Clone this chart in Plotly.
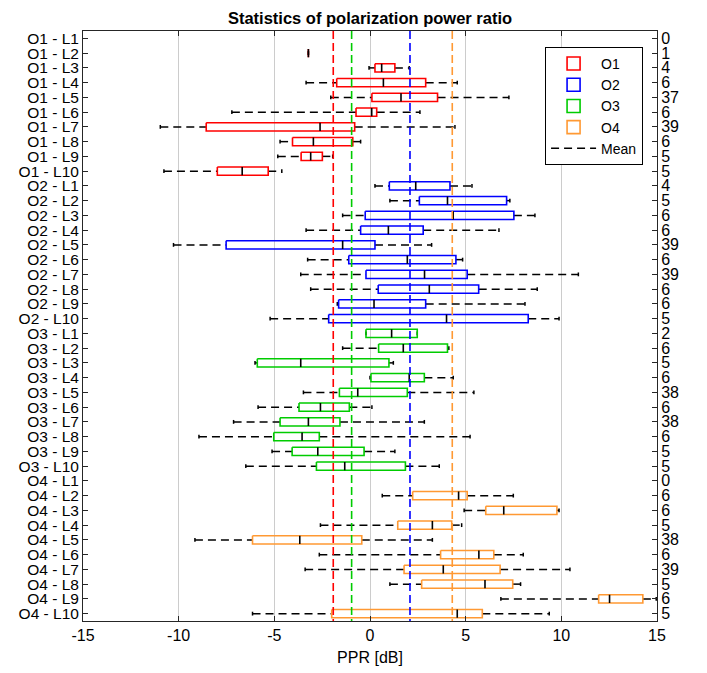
import plotly.graph_objects as go

# PPR statistics per O/L group (dB)
groups = ['O1', 'O2', 'O3', 'O4']
colors = ['#ff0000', '#0000ff', '#00cc00', '#ff9933']
levels = ['L%d' % i for i in range(1, 11)]

wmin = {
    'O1': [None, -3.22, -0.05, -3.34, -2.05, -7.22, -10.96, -4.70, -4.82, -10.77],
    'O2': [0.26, 1.04, -1.43, -3.34, -10.27, -3.26, -3.62, -3.10, -1.71, -5.22],
    'O3': [-0.21, -1.43, -6.01, 0.00, -3.48, -5.85, -7.13, -8.94, -5.12, -6.49],
    'O4': [None, 0.64, 4.92, -2.59, -9.15, -2.65, -3.39, 1.04, 6.84, -6.14],
}
q1 = {
    'O1': [None, -3.22, 0.26, -1.74, 0.10, -0.73, -8.56, -4.05, -3.60, -7.98],
    'O2': [1.01, 2.58, -0.25, -0.49, -7.52, -1.11, -0.21, 0.43, -1.64, -2.16],
    'O3': [-0.21, 0.45, -5.89, 0.05, -1.60, -3.71, -4.70, -5.03, -4.07, -2.80],
    'O4': [None, 2.23, 6.05, 1.45, -6.14, 3.69, 1.78, 2.70, 11.95, -2.00],
}
med = {
    'O1': [None, -3.22, 0.61, 0.70, 1.62, 0.09, -2.61, -2.96, -3.10, -6.68],
    'O2': [2.39, 4.05, 4.35, 0.96, -1.43, 1.95, 2.85, 3.10, 0.21, 4.00],
    'O3': [1.13, 1.74, -3.62, 2.05, -0.64, -2.59, -3.22, -3.55, -2.73, -1.32],
    'O4': [None, 4.63, 6.99, 3.26, -3.67, 5.69, 3.83, 6.01, 12.52, 4.56],
}
q3 = {
    'O1': [None, -3.22, 1.30, 2.91, 3.53, 0.35, -0.80, -0.90, -2.49, -5.32],
    'O2': [4.18, 7.14, 7.52, 2.78, 0.26, 4.49, 5.08, 5.68, 2.91, 8.27],
    'O3': [2.47, 4.05, 0.99, 2.84, 1.95, -1.08, -1.57, -2.65, -0.31, 1.85],
    'O4': [None, 5.08, 9.77, 4.27, -0.43, 6.47, 6.80, 7.46, 14.26, 5.87],
}
wmax = {
    'O1': [None, -3.22, 2.05, 4.56, 7.26, 2.61, 4.44, -0.49, -1.95, -4.61],
    'O2': [5.33, 7.31, 8.62, 6.74, 3.22, 4.84, 10.89, 8.74, 8.10, 9.88],
    'O3': [2.47, 4.12, 1.22, 4.35, 5.43, 0.10, 2.84, 5.23, 1.30, 3.62],
    'O4': [None, 7.49, 9.88, 4.79, 3.26, 8.01, 10.45, 7.87, 14.96, 9.37],
}
counts = {
    'O1': [0, 1, 4, 6, 37, 6, 39, 6, 5, 5],
    'O2': [4, 5, 6, 6, 39, 6, 39, 6, 6, 5],
    'O3': [2, 6, 5, 6, 38, 6, 38, 6, 5, 5],
    'O4': [0, 6, 6, 5, 38, 6, 39, 5, 6, 5],
}
# mean PPR of each group O1..O4
means = [-1.92, 2.09, -0.96, 4.30]

xticks = [-15, -10, -5, 0, 5, 10, 15]
labels = ['%s - %s' % (g, l) for g in groups for l in levels]
ypos = list(range(1, len(labels) + 1))
count_text = [str(c) for g in groups for c in counts[g]]

BW = 0.28   # half box height
CAP = 0.13  # half cap height

fig = go.Figure()

# whiskers (dashed) and caps
wx, wy, cx, cy = [], [], [], []
for gi, g in enumerate(groups):
    for li in range(10):
        if wmin[g][li] is None:
            continue
        y = ypos[gi * 10 + li]
        wx += [wmin[g][li], q1[g][li], None, q3[g][li], wmax[g][li], None]
        wy += [y, y, None, y, y, None]
        for v in (wmin[g][li], wmax[g][li]):
            cx += [v, v, None]
            cy += [y - CAP, y + CAP, None]
fig.add_trace(go.Scatter(x=wx, y=wy, mode='lines', showlegend=False, hoverinfo='skip',
                         line=dict(color='black', width=1.5, dash='8px,5px')))
fig.add_trace(go.Scatter(x=cx, y=cy, mode='lines', showlegend=False, hoverinfo='skip',
                         line=dict(color='black', width=1.5)))

# boxes
for gi, g in enumerate(groups):
    bx, by = [], []
    for li in range(10):
        if q1[g][li] is None:
            continue
        y = ypos[gi * 10 + li]
        a, b = q1[g][li], q3[g][li]
        bx += [a, b, b, a, a, None]
        by += [y - BW, y - BW, y + BW, y + BW, y - BW, None]
    fig.add_trace(go.Scatter(x=bx, y=by, mode='lines', showlegend=False, hoverinfo='skip',
                             line=dict(color=colors[gi], width=1.6)))

# medians
mx, my = [], []
for gi, g in enumerate(groups):
    for li in range(10):
        if med[g][li] is None:
            continue
        y = ypos[gi * 10 + li]
        mx += [med[g][li], med[g][li], None]
        my += [y - BW, y + BW, None]
fig.add_trace(go.Scatter(x=mx, y=my, mode='lines', showlegend=False, hoverinfo='skip',
                         line=dict(color='black', width=1.6)))

# mean lines
for gi, m in enumerate(means):
    fig.add_trace(go.Scatter(x=[m, m], y=[0.5, 40.5], mode='lines', showlegend=False,
                             hoverinfo='skip', line=dict(color=colors[gi], width=1.6, dash='8px,4px')))

# legend entries
for gi, g in enumerate(groups):
    fig.add_trace(go.Scatter(x=[None], y=[None], mode='markers', name=g,
                             marker=dict(symbol='square-open', size=13, color=colors[gi],
                                         line=dict(width=1.6))))
fig.add_trace(go.Scatter(x=[None], y=[None], mode='lines', name='Mean',
                         line=dict(color='black', width=1.5, dash='8px,5px')))

# right-hand axis carrying the counts
fig.add_trace(go.Scatter(x=[0] * len(ypos), y=ypos, yaxis='y2', mode='markers',
                         marker=dict(opacity=0), showlegend=False, hoverinfo='skip'))

axis_col = '#262626'
fig.update_layout(
    width=699, height=665,
    margin=dict(l=75, r=50, t=23, b=52, autoexpand=False),
    plot_bgcolor='white', paper_bgcolor='white',
    font=dict(family='Liberation Sans, Arial, sans-serif', size=15, color='black'),
    title=dict(text='<b>Statistics of polarization power ratio</b>', x=0.5, xref='paper',
               y=1 - 10.5 / 665, yref='container', yanchor='middle', xanchor='center',
               font=dict(size=16.5), automargin=False),
    xaxis=dict(range=[-15, 15], tickvals=xticks, ticktext=[str(v) for v in xticks],
               showgrid=True, gridcolor='#cccccc', gridwidth=1, zeroline=False,
               showline=True, linecolor=axis_col, linewidth=1, mirror='ticks',
               ticks='inside', ticklen=5, tickcolor=axis_col, automargin=False,
               tickfont=dict(size=16),
               title=dict(text='PPR [dB]', standoff=8, font=dict(size=16))),
    yaxis=dict(range=[40.5, 0.5], tickvals=ypos, ticktext=labels, showgrid=False,
               zeroline=False, showline=True, linecolor=axis_col, linewidth=1,
               ticks='inside', ticklen=5, tickcolor=axis_col, automargin=False,
               tickfont=dict(size=15.5)),
    yaxis2=dict(range=[40.5, 0.5], tickvals=ypos, ticktext=count_text, overlaying='y',
                side='right', showgrid=False, zeroline=False, showline=True,
                linecolor=axis_col, linewidth=1, ticks='inside', ticklen=5, tickcolor=axis_col,
                automargin=False, tickfont=dict(size=16)),
    legend=dict(x=0.805, y=0.973, xanchor='left', yanchor='top', bgcolor='white',
                bordercolor='black', borderwidth=1, font=dict(size=14),
                itemwidth=45, tracegroupgap=0),
)

fig.write_html("out.html")
